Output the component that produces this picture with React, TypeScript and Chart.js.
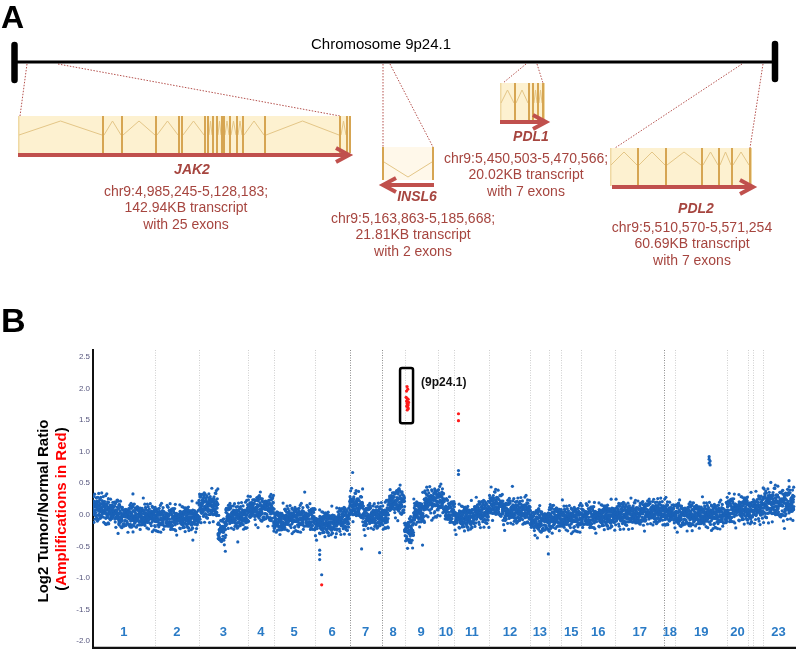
import React, { useEffect, useRef } from "react";
import { Chart, registerables } from "chart.js";
Chart.register(...registerables);

const FONT = '"Liberation Sans", Arial, Helvetica, sans-serif';
Chart.defaults.font.family = FONT;

// ---------------- Panel A (gene schematic) data ----------------
const geneNames = ["JAK2", "INSL6", "PDL1", "PDL2"];
const geneCoords = [
  "chr9:4,985,245-5,128,183;",
  "chr9:5,163,863-5,185,668;",
  "chr9:5,450,503-5,470,566;",
  "chr9:5,510,570-5,571,254",
];
const geneSizes = ["142.94KB transcript", "21.81KB transcript", "20.02KB transcript", "60.69KB transcript"];
const geneExonText = ["with 25 exons", "with 2 exons", "with 7 exons", "with 7 exons"];
const geneStrand = [1, -1, 1, 1];

// ---------------- Panel B (copy number) data ----------------
const chromNames = ["1","2","3","4","5","6","7","8","9","10","11","12","13","14","15","16","17","18","19","20","21","22","23"];
// cumulative probe-index start of each chromosome on the genome axis
const chromStarts = [0, 62, 106, 155, 181, 222, 257, 289, 312, 345, 362, 397, 438, 457, 469, 489, 523, 572, 583, 635, 656, 661, 671];
const genomeEnd = 702;
const chromLabelHidden = ["14", "21", "22"];
const chromDarkBoundary = ["7", "8", "18"];

// segmented log2 ratio levels
const segStarts = [0, 12, 25, 62, 106, 125, 133, 155, 181, 192, 222, 245, 257, 270, 289, 296, 312, 321, 332, 345, 352, 362, 382, 397, 410, 438, 457, 469, 489, 523, 548, 572, 583, 635, 656, 661, 671];
const segEnds   = [12, 25, 62, 106, 125, 133, 155, 181, 192, 222, 245, 257, 270, 289, 296, 312, 321, 332, 345, 352, 362, 382, 397, 410, 438, 457, 469, 489, 523, 548, 572, 583, 635, 656, 661, 671, 702];
const segMeans  = [0.10, 0.05, -0.03, -0.06, 0.13, -0.25, -0.03, 0.09, -0.11, -0.06, -0.14, -0.08, 0.13, -0.03, -0.03, 0.20, -0.26, 0.03, 0.20, 0.22, 0.05, -0.05, 0.03, 0.15, 0.05, -0.10, -0.05, -0.06, -0.03, 0.00, 0.04, 0.02, -0.01, 0.08, 0.05, 0.10, 0.17];
const segSpreads = [0.11, 0.11, 0.10, 0.10, 0.11, 0.11, 0.10, 0.11, 0.10, 0.10, 0.10, 0.10, 0.11, 0.10, 0.10, 0.11, 0.11, 0.11, 0.12, 0.11, 0.10, 0.10, 0.10, 0.11, 0.10, 0.10, 0.10, 0.10, 0.10, 0.10, 0.10, 0.10, 0.10, 0.11, 0.11, 0.11, 0.13];
// probe scatter residuals (in spread units) read as the typical band texture
const residualA = [0.3,-1.2,0.8,-0.1,1.6,-0.6,0.05,-1.9,0.45,1.1,-0.35,0.7,-0.9,2.2,-0.2,0.15,-1.4,0.95,-0.5,0.25,1.3,-0.75,-0.05,0.6,-1.05,1.8,-0.3,0.4,-1.6,0.1,0.85,-0.45,1.45,-0.15,-0.85,0.55,-2.3,0.2,1.0,-0.65,0.35,-1.25,0.75,-0.25,1.2,-0.55,0.0];
const residualB = [-0.4,1.1,0.2,-1.3,0.7,-0.1,1.7,-0.8,0.35,-0.55,0.9,-1.9,0.05,0.5,-0.25,1.35,-0.7,0.15,-1.05,0.6,-0.3,2.0,-0.9];
const probeStep = 0.13;

// isolated blue probes
const outlierX = [125, 258, 260, 270, 100, 145, 269, 287, 456, 227, 227, 227, 229, 366, 366, 617, 617, 618, 617, 618, 697, 40, 212, 330, 420];
const outlierY = [0.41, 0.38, 0.67, 0.41, -0.40, -0.43, -0.54, -0.60, -0.62, -0.56, -0.63, -0.71, -0.95, 0.70, 0.64, 0.92, 0.88, 0.85, 0.82, 0.79, 0.54, 0.33, 0.36, -0.48, 0.45];
// amplified probes (red)
const ampX = [314.5, 315.2, 314.0, 313.6, 314.6, 315.6, 314.1, 315.1, 316.0, 314.6, 315.6, 314.2, 315.2, 315.7, 314.7, 366, 366, 229];
const ampY = [2.03, 1.99, 1.96, 1.86, 1.84, 1.83, 1.80, 1.79, 1.78, 1.76, 1.74, 1.72, 1.70, 1.68, 1.66, 1.60, 1.49, -1.11];
// segment marker probes (black)
const markerX = [47, 75, 117, 256, 390];
const markerY = [0.0, 0.0, 0.0, 0.0, 0.0];

const yTicks = [-2.0, -1.5, -1.0, -0.5, 0.0, 0.5, 1.0, 1.5, 2.0, 2.5];
const yMin = -2.11;
const yMax = 2.61;
const ampBoxX = [307.5, 320.5];
const ampBoxY = [1.45, 2.325];
const ampLabel = "(9p24.1)";

// ---------------- Panel A layout (schematic positions) ----------------
const layoutA = {
  boxL: [18, 382, 500, 610],
  boxR: [351, 434, 545, 752],
  boxT: [116, 147, 83, 148],
  boxB: [153, 180, 120, 186],
  exons: [
    [103, 122, 156, 179, 182, 205, 208, 213, 217, 222, 224, 230, 237, 243, 265, 340, 347, 350],
    [383, 433],
    [515, 529, 533, 538, 543],
    [638, 666, 702, 719, 732, 750],
  ],
  intronBase: [135, 162, 103, 165],
  intronApex: [121, 177, 90, 152],
  arrowY: [155, 185, 122, 187],
  arrowFrom: [18, 434, 500, 612],
  arrowTo: [349, 383, 546, 753],
  connectors: [
    [27, 64, 20, 116], [58, 64, 340, 116],
    [383, 64, 383, 147], [390, 64, 433, 147],
    [526, 64, 503, 83], [537, 64, 543, 83],
    [742, 64, 615, 148], [763, 64, 750, 148],
  ],
  labelX: [192, 417, 531, 696],
  labelY: [170, 197, 137, 209],
  textX: [186, 413, 526, 692],
  textY: [192, 219, 159, 228],
  lineGap: 16.5,
};

function buildBand() {
  const pts: { x: number; y: number }[] = [];
  let k = 0;
  for (let s = 0; s < segStarts.length; s++) {
    for (let u = segStarts[s]; u < segEnds[s]; u += probeStep) {
      const r = 0.8 * residualA[k % residualA.length] + 0.6 * residualB[k % residualB.length];
      pts.push({ x: u, y: segMeans[s] + segSpreads[s] * r });
      k++;
    }
  }
  return pts;
}
const zip = (xs: number[], ys: number[]) => xs.map((x, i) => ({ x, y: ys[i] }));

const ARROW = "#c0504d";
const TEXTRED = "#a6453f";

const panelAPlugin = {
  id: "panelA",
  afterDraw(chart: any) {
    const { ctx } = chart;
    const sx = chart.scales.x, sy = chart.scales.y;
    const X = (v: number) => sx.getPixelForValue(v);
    const Y = (v: number) => sy.getPixelForValue(v);
    const L = layoutA;
    ctx.save();
    // panel letter
    ctx.fillStyle = "#000";
    ctx.textAlign = "left";
    ctx.textBaseline = "alphabetic";
    ctx.font = `bold 32px ${FONT}`;
    ctx.fillText("A", X(1), Y(28));
    // title
    ctx.font = `15px ${FONT}`;
    ctx.textAlign = "center";
    ctx.textBaseline = "middle";
    ctx.fillText("Chromosome 9p24.1", X(381), Y(45));
    // connectors (behind)
    ctx.strokeStyle = "#b4504c";
    ctx.lineWidth = 1;
    ctx.setLineDash([1.5, 1.5]);
    L.connectors.forEach((c) => {
      ctx.beginPath();
      ctx.moveTo(X(c[0]), Y(c[1]));
      ctx.lineTo(X(c[2]), Y(c[3]));
      ctx.stroke();
    });
    ctx.setLineDash([]);
    // chromosome line
    ctx.strokeStyle = "#000";
    ctx.lineWidth = 3;
    ctx.beginPath();
    ctx.moveTo(X(14), Y(62));
    ctx.lineTo(X(776), Y(62));
    ctx.stroke();
    ctx.lineWidth = 6.5;
    ctx.lineCap = "round";
    ctx.beginPath();
    ctx.moveTo(X(14.5), Y(45));
    ctx.lineTo(X(14.5), Y(80));
    ctx.moveTo(X(775), Y(44));
    ctx.lineTo(X(775), Y(79));
    ctx.stroke();
    ctx.lineCap = "butt";

    for (let g = 0; g < geneNames.length; g++) {
      const l = L.boxL[g], r = L.boxR[g], t = L.boxT[g], b = L.boxB[g];
      ctx.fillStyle = g === 1 ? "#fff8ea" : "#fdf1d0";
      ctx.fillRect(X(l), Y(t), X(r) - X(l), Y(b) - Y(t));
      ctx.fillStyle = "#efd9a4";
      ctx.fillRect(X(l), Y(t), 1.5, Y(b) - Y(t));
      ctx.fillRect(X(r) - 1.5, Y(t), 1.5, Y(b) - Y(t));
      // introns
      const nodes = [l, ...L.exons[g]];
      if (g === 1) nodes.splice(0, 1);
      ctx.strokeStyle = "#e4c687";
      ctx.lineWidth = 1;
      ctx.beginPath();
      for (let i = 0; i < nodes.length - 1; i++) {
        const a = nodes[i] + 1, c = nodes[i + 1] - 1;
        if (c - a < 3) continue;
        ctx.moveTo(X(a), Y(L.intronBase[g]));
        ctx.lineTo(X((a + c) / 2), Y(L.intronApex[g]));
        ctx.lineTo(X(c), Y(L.intronBase[g]));
      }
      ctx.stroke();
      // exons
      ctx.fillStyle = "#d6a552";
      L.exons[g].forEach((e) => {
        ctx.fillRect(X(e) - 1, Y(t), 2, Y(b) - Y(t));
      });
      // arrow
      const ay = Y(L.arrowY[g]);
      const x0 = X(L.arrowFrom[g]), x1 = X(L.arrowTo[g]);
      const dir = geneStrand[g];
      ctx.strokeStyle = ARROW;
      ctx.lineWidth = 4;
      ctx.beginPath();
      ctx.moveTo(x0, ay);
      ctx.lineTo(x1 - dir * 2, ay);
      ctx.stroke();
      ctx.lineJoin = "miter";
      ctx.beginPath();
      ctx.moveTo(x1 - dir * 13, ay - 7);
      ctx.lineTo(x1, ay);
      ctx.lineTo(x1 - dir * 13, ay + 7);
      ctx.stroke();
      // texts
      ctx.fillStyle = TEXTRED;
      ctx.textAlign = "center";
      ctx.textBaseline = "middle";
      ctx.font = `italic bold 14px ${FONT}`;
      ctx.fillText(geneNames[g], X(L.labelX[g]), Y(L.labelY[g]));
      ctx.font = `14px ${FONT}`;
      const lines = [geneCoords[g], geneSizes[g], geneExonText[g]];
      lines.forEach((s, i) => ctx.fillText(s, X(L.textX[g]), Y(L.textY[g] + i * L.lineGap)));
    }
    ctx.restore();
  },
};

const panelBPlugin = {
  id: "panelB",
  beforeDatasetsDraw(chart: any) {
    const { ctx, chartArea } = chart;
    const sx = chart.scales.x;
    ctx.save();
    ctx.lineWidth = 1;
    ctx.setLineDash([1, 1.5]);
    for (let i = 1; i < chromStarts.length; i++) {
      const px = Math.round(sx.getPixelForValue(chromStarts[i])) + 0.5;
      ctx.strokeStyle = chromDarkBoundary.includes(chromNames[i]) ? "#8c8c8c" : "#cfcfcf";
      ctx.beginPath();
      ctx.moveTo(px, chartArea.top);
      ctx.lineTo(px, chartArea.bottom);
      ctx.stroke();
    }
    ctx.restore();
  },
  afterDatasetsDraw(chart: any) {
    const { ctx, chartArea } = chart;
    const sx = chart.scales.x, sy = chart.scales.y;
    ctx.save();
    // bottom axis line
    ctx.strokeStyle = "#111";
    ctx.lineWidth = 2.5;
    ctx.beginPath();
    ctx.moveTo(chartArea.left - 1, chartArea.bottom);
    ctx.lineTo(chartArea.right, chartArea.bottom);
    ctx.stroke();
    // chromosome labels
    ctx.fillStyle = "#2a7bc6";
    ctx.font = `bold 13px ${FONT}`;
    ctx.textAlign = "center";
    ctx.textBaseline = "middle";
    for (let i = 0; i < chromNames.length; i++) {
      if (chromLabelHidden.includes(chromNames[i])) continue;
      const end = i + 1 < chromStarts.length ? chromStarts[i + 1] : genomeEnd;
      ctx.fillText(chromNames[i], sx.getPixelForValue((chromStarts[i] + end) / 2), sy.getPixelForValue(-1.87));
    }
    // amplification box
    const bx0 = sx.getPixelForValue(ampBoxX[0]), bx1 = sx.getPixelForValue(ampBoxX[1]);
    const by0 = sy.getPixelForValue(ampBoxY[1]), by1 = sy.getPixelForValue(ampBoxY[0]);
    ctx.strokeStyle = "#000";
    ctx.lineWidth = 2.5;
    ctx.beginPath();
    (ctx as any).roundRect ? (ctx as any).roundRect(bx0, by0, bx1 - bx0, by1 - by0, 2) : ctx.rect(bx0, by0, bx1 - bx0, by1 - by0);
    ctx.stroke();
    ctx.fillStyle = "#111";
    ctx.font = `bold 12px ${FONT}`;
    ctx.textAlign = "left";
    ctx.fillText(ampLabel, bx1 + 8, sy.getPixelForValue(2.09));
    ctx.restore();
  },
  afterDraw(chart: any) {
    const { ctx } = chart;
    ctx.save();
    ctx.fillStyle = "#000";
    ctx.font = `bold 34px ${FONT}`;
    ctx.textAlign = "left";
    ctx.textBaseline = "alphabetic";
    ctx.fillText("B", 1, 42);
    // y-axis title, two lines
    ctx.font = `bold 15px ${FONT}`;
    ctx.textBaseline = "middle";
    ctx.save();
    ctx.translate(44, 221);
    ctx.rotate(-Math.PI / 2);
    ctx.textAlign = "center";
    ctx.fillText("Log2 Tumor/Normal Ratio", 0, 0);
    ctx.restore();
    ctx.save();
    ctx.translate(62, 219);
    ctx.rotate(-Math.PI / 2);
    ctx.textAlign = "left";
    const parts = [["(", "#000"], ["Amplifications in Red", "#ff0000"], [")", "#000"]];
    const total = parts.reduce((s, p) => s + ctx.measureText(p[0]).width, 0);
    let x = -total / 2;
    parts.forEach((p) => {
      ctx.fillStyle = p[1];
      ctx.fillText(p[0], x, 0);
      x += ctx.measureText(p[0]).width;
    });
    ctx.restore();
    ctx.restore();
  },
};

export default function App() {
  const refA = useRef<HTMLCanvasElement>(null);
  const refB = useRef<HTMLCanvasElement>(null);
  useEffect(() => {
    const chartA = new Chart(refA.current!, {
      type: "scatter",
      data: { datasets: [{ data: [] }] },
      options: {
        animation: false,
        responsive: false,
        events: [],
        layout: { padding: 0 },
        plugins: { legend: { display: false }, tooltip: { enabled: false } },
        scales: {
          x: { type: "linear", min: 0, max: 800, display: false },
          y: { type: "linear", min: 0, max: 290, reverse: true, display: false },
        },
      },
      plugins: [panelAPlugin],
    } as any);

    const blue = "#1a62b8";
    const chartB = new Chart(refB.current!, {
      type: "scatter",
      data: {
        datasets: [
          { data: buildBand(), backgroundColor: blue, pointRadius: 1.6, borderWidth: 0, pointHoverRadius: 0 },
          { data: zip(outlierX, outlierY), backgroundColor: blue, pointRadius: 1.6, borderWidth: 0 },
          { data: zip(markerX, markerY), backgroundColor: "#111", pointRadius: 1.2, borderWidth: 0 },
          { data: zip(ampX, ampY), backgroundColor: "#ff1a1a", pointRadius: 1.6, borderWidth: 0 },
        ],
      },
      options: {
        animation: false,
        responsive: false,
        events: [],
        layout: { padding: { left: 63, top: 60, right: 3, bottom: 2 } },
        plugins: { legend: { display: false }, tooltip: { enabled: false } },
        scales: {
          x: {
            type: "linear",
            min: 0,
            max: 704,
            display: false,
          },
          y: {
            type: "linear",
            min: yMin,
            max: yMax,
            afterBuildTicks: (s: any) => { s.ticks = yTicks.map((v) => ({ value: v })); },
            grid: { display: false, drawTicks: false },
            border: { display: true, color: "#111", width: 2 },
            ticks: {
              color: "#56567e",
              font: { size: 8 },
              padding: 3,
              callback: (v: any) => Number(v).toFixed(1),
            },
            afterFit: (s: any) => {
              s.width = 30;
              s.paddingTop = 0;
              s.paddingBottom = 0;
            },
          },
        },
      },
      plugins: [panelBPlugin],
    } as any);
    return () => {
      chartA.destroy();
      chartB.destroy();
    };
  }, []);
  return (
    <div style={{ position: "absolute", left: 0, top: 0, width: 800, height: 649, background: "#fff", overflow: "hidden" }}>
      <canvas ref={refA} width={800} height={290} style={{ display: "block" }} />
      <canvas ref={refB} width={800} height={362} style={{ display: "block" }} />
    </div>
  );
}
